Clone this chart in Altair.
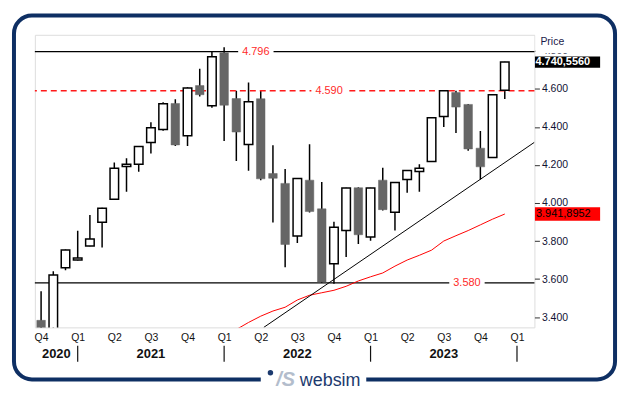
import altair as alt
import pandas as pd

# ---- data (monthly candles, Oct 2020 .. Dec 2023) ----
month_idx = list(range(39))
open_ = [3383, 3300, 3659, 3700, 3774, 3899, 4019, 4192, 4203, 4318, 4386, 4523, 4354,
         4617, 4511, 4790, 4549, 4307, 4548, 4155, 4103, 3826, 4120, 3969, 3680, 3855,
         4080, 3821, 4120, 3951, 4124, 4166, 4218, 4454, 4581, 4518, 4288, 4239, 4593]
high = [3536, 3641, 3756, 3854, 3937, 3975, 4213, 4235, 4300, 4425, 4530, 4545, 4608,
        4706, 4796, 4818, 4590, 4633, 4590, 4303, 4178, 4130, 4309, 4110, 3901, 4080,
        4082, 4080, 4185, 4110, 4173, 4204, 4450, 4593, 4590, 4520, 4378, 4570, 4742]
low = [3230, 3280, 3646, 3698, 3772, 3766, 4017, 4059, 4164, 4260, 4380, 4300, 4300,
       4560, 4500, 4326, 4221, 4169, 4120, 3897, 3662, 3789, 3950, 3580, 3575, 3716,
       3784, 3801, 3960, 3855, 4054, 4059, 4215, 4399, 4368, 4274, 4124, 4236, 4546]
close = [3270, 3622, 3753, 3711, 3810, 3972, 4182, 4203, 4297, 4396, 4522, 4305, 4605,
         4569, 4769, 4514, 4373, 4532, 4127, 4130, 3782, 4129, 3955, 3585, 3873, 4079,
         3833, 4079, 3965, 4108, 4171, 4183, 4448, 4590, 4504, 4284, 4190, 4569, 4740.556]

ma_idx = list(range(16, 39))
ma_val = [3335, 3372, 3405, 3432, 3452, 3490, 3515, 3528, 3541, 3562, 3590, 3612,
          3632, 3668, 3700, 3725, 3752, 3800, 3828, 3855, 3885, 3915, 3941.8952]

trend_idx = [18.25, 40.43]
trend_val = [3346, 4319]

level_vals = [4796, 4590, 3580]
level_text = ["4.796", "4.590", "3.580"]
level_pos = [17.6, 23.6, 34.9]
level_style = ["solid", "dashed", "solid"]

years = ["2020", "2021", "2022", "2023"]
year_pos = [1.25, 9, 21, 33]
year_sep = [3, 15, 27, 39]
quarter_ticks = list(range(0, 40, 3))
price_ticks = [3400, 3600, 3800, 4000, 4200, 4400, 4600, 4800]

NAVY = "#0e2f63"
FONT = "Liberation Sans"


def eu(v, dec):
    s = f"{v:,.{dec}f}"
    return s.replace(",", "#").replace(".", ",").replace("#", ".")


# ---- tables ----
c = pd.DataFrame({"i": month_idx, "o": open_, "h": high, "l": low, "c": close})
c["x1"] = c.i - 0.35
c["x2"] = c.i + 0.35
c["top"] = c[["o", "c"]].max(axis=1)
c["bot"] = c[["o", "c"]].min(axis=1)
up = c[c.c >= c.o]
dn = c[c.c < c.o]

ma = pd.DataFrame({"i": ma_idx, "v": ma_val})
trend = pd.DataFrame({"i": trend_idx, "v": trend_val})
lv = pd.DataFrame({"v": level_vals, "t": level_text, "p": level_pos, "s": level_style})
lv["g1"] = lv.p - 1.45
lv["g2"] = lv.p + 1.45
yr = pd.DataFrame({"t": years, "p": year_pos})
sep = pd.DataFrame({"p": year_sep})

units_per_px = (4884 - 3346) / 294
boxes = pd.DataFrame({
    "v": [close[-1], ma_val[-1]],
    "t": [eu(close[-1], 4), eu(ma_val[-1], 4)],
    "fill": ["black", "#ff0000"],
    "half": [5.6 * units_per_px, 6.7 * units_per_px],
})
boxes["y1"] = boxes.v - boxes.half
boxes["y2"] = boxes.v + boxes.half
one = pd.DataFrame({"k": [0]})

xs = alt.Scale(domain=[-0.51, 40.43], nice=False, zero=False)
ys = alt.Scale(domain=[3346, 4884], nice=False, zero=False)

x_axis = alt.Axis(values=quarter_ticks, labelExpr="'Q' + ((3 + datum.value/3) % 4 + 1)",
                  ticks=False, domain=False, grid=False, title=None, labelFontSize=10.5,
                  labelColor="#111111", labelPadding=5, labelFlush=False, labelFont=FONT)
y_axis = alt.Axis(orient="right", values=price_ticks,
                  labelExpr="replace(format(datum.value, ',.0f'), ',', '.')",
                  tickSize=5, tickColor="#333333", domain=False, grid=False, title=None,
                  labelFontSize=10.5, labelColor="#111133", labelPadding=2, labelFont=FONT)


def X(f):
    return alt.X(f, type="quantitative", scale=xs, axis=x_axis)


def Y(f):
    return alt.Y(f, type="quantitative", scale=ys, axis=y_axis)


wicks = alt.Chart(c).mark_rule(color="black", strokeWidth=1.5, clip=True).encode(
    x=X("i"), y=Y("l"), y2="h")

body_up = alt.Chart(up).mark_rect(fill="white", stroke="black", strokeWidth=1.5, clip=True).encode(
    x=X("x1"), x2="x2", y=Y("bot"), y2="top")
body_dn = alt.Chart(dn).mark_rect(fill="#666666", stroke="#666666", strokeWidth=0.5, clip=True).encode(
    x=X("x1"), x2="x2", y=Y("bot"), y2="top")

lines_solid = alt.Chart(lv[lv.s == "solid"]).mark_rule(color="black", strokeWidth=1.2).encode(y=Y("v"))
lines_dash = alt.Chart(lv[lv.s == "dashed"]).mark_rule(color="#ff1a1a", strokeWidth=1.3,
                                                       strokeDash=[6, 4]).encode(y=Y("v"))
gaps = alt.Chart(lv).mark_rule(color="white", strokeWidth=5).encode(x=X("g1"), x2="g2", y=Y("v"))
level_labels = alt.Chart(lv).mark_text(color="#ff2a2a", fontSize=11, font=FONT,
                                       baseline="middle").encode(x=X("p"), y=Y("v"), text="t:N")

ma_line = alt.Chart(ma).mark_line(color="#ff0000", strokeWidth=1, clip=True).encode(x=X("i"), y=Y("v"))
trend_line = alt.Chart(trend).mark_line(color="black", strokeWidth=1, clip=True).encode(x=X("i"), y=Y("v"))

price_bg = alt.Chart(one).mark_rect(fill="white", clip=False).encode(
    x=alt.value(503), x2=alt.value(570), y=alt.value(-2), y2=alt.value(18.5))
price_lbl = alt.Chart(one).mark_text(text="Price", align="left", baseline="middle", fontSize=10.5,
                                     color="#1a1a4a", font=FONT).encode(x=alt.value(508), y=alt.value(7.5))

box_rects = alt.Chart(boxes).mark_rect(clip=False).encode(
    x=alt.value(502.5), x2=alt.value(568), y=Y("y1"), y2="y2",
    fill=alt.Color("fill:N", scale=None))
box_text_b = alt.Chart(boxes.iloc[[0]]).mark_text(align="left", baseline="middle", fontSize=11,
                                                  fontWeight="bold", color="white", font=FONT).encode(
    x=alt.value(503), y=Y("v"), text="t:N")
box_text_r = alt.Chart(boxes.iloc[[1]]).mark_text(align="left", baseline="middle", fontSize=11,
                                                  color="black", font=FONT).encode(
    x=alt.value(503.5), y=Y("v"), text="t:N")

year_lbl = alt.Chart(yr).mark_text(fontSize=13, fontWeight="bold", color="#111111", font=FONT,
                                   baseline="middle").encode(x=X("p"), y=alt.value(320.5), text="t:N")
year_sep_r = alt.Chart(sep).mark_rule(color="#111111", strokeWidth=1.2).encode(
    x=X("p"), y=alt.value(312.5), y2=alt.value(328.5))

frame = alt.Chart(one).mark_rect(filled=False, stroke=NAVY, strokeWidth=4, cornerRadius=18,
                                 clip=False).encode(
    x=alt.value(-21), x2=alt.value(583), y=alt.value(-19.3), y2=alt.value(346.3))
logo_gap = alt.Chart(one).mark_rect(fill="white").encode(
    x=alt.value(227), x2=alt.value(333), y=alt.value(342), y2=alt.value(351))
logo_dot = alt.Chart(one).mark_point(filled=True, size=30, color="#1c3a6e", opacity=1).encode(
    x=alt.value(236.7), y=alt.value(339.5))
logo_mark = alt.Chart(one).mark_text(text="/S", fontSize=20, fontStyle="italic", fontWeight="bold",
                                     color="#b3bdcc", font=FONT, baseline="alphabetic").encode(
    x=alt.value(252), y=alt.value(352.5))
logo_text = alt.Chart(one).mark_text(text="websim", fontSize=18, color="#1c3a6e", font=FONT,
                                     baseline="alphabetic").encode(
    x=alt.value(296.7), y=alt.value(352.5))

chart = alt.layer(
    wicks, lines_solid, lines_dash, gaps, level_labels, ma_line, trend_line,
    body_up, body_dn, price_bg, price_lbl, box_rects, box_text_b, box_text_r,
    year_lbl, year_sep_r, frame, logo_gap, logo_dot, logo_mark, logo_text,
).properties(
    width=502, height=294, autosize="none",
    padding={"left": 27, "top": 26, "right": 90, "bottom": 66},
).configure_view(stroke="#8a8a9a", strokeWidth=1).configure(background="white")

chart.save("out.html", embed_options={"renderer": "svg", "actions": False})
